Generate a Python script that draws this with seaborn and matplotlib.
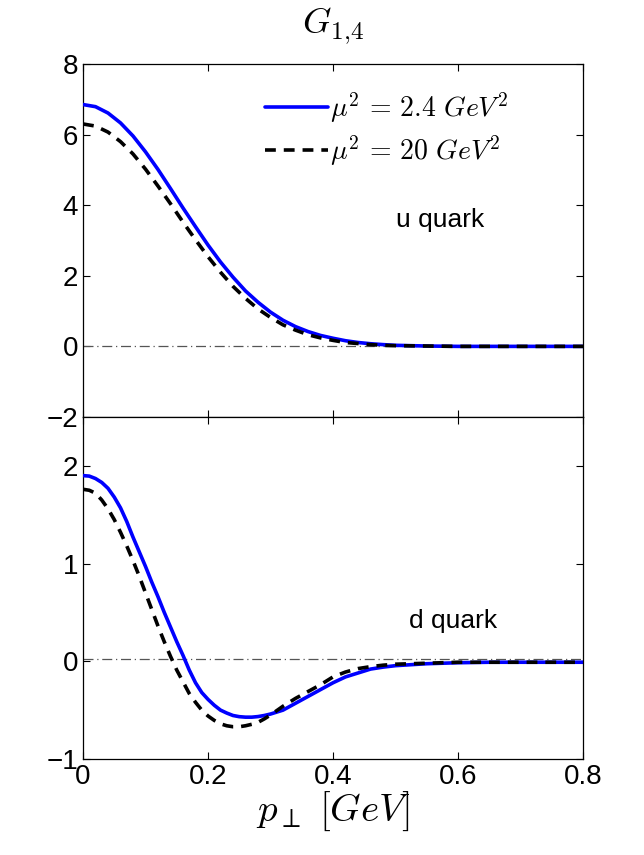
import numpy as np
import pandas as pd
import seaborn as sns
import matplotlib.pyplot as plt

# values
# upper panel: u quark
p_u = [0.00, 0.02, 0.04, 0.06, 0.08, 0.10, 0.12, 0.14, 0.16, 0.18,
       0.20, 0.22, 0.24, 0.26, 0.28, 0.30, 0.32, 0.34, 0.36, 0.38,
       0.40, 0.42, 0.44, 0.46, 0.48, 0.50, 0.55, 0.60, 0.65, 0.70,
       0.75, 0.80]
u_low = [6.85, 6.79, 6.61, 6.33, 5.96, 5.51, 5.01, 4.47, 3.92, 3.39,
         2.87, 2.39, 1.96, 1.57, 1.25, 0.97, 0.74, 0.56, 0.42, 0.31,
         0.23, 0.16, 0.11, 0.075, 0.05, 0.03, 0.01, 0.0, 0.0, 0.0,
         0.0, 0.0]
u_high = [6.30, 6.24, 6.07, 5.80, 5.45, 5.02, 4.54, 4.04, 3.52, 3.02,
          2.54, 2.10, 1.70, 1.36, 1.06, 0.82, 0.61, 0.46, 0.33, 0.24,
          0.17, 0.11, 0.08, 0.05, 0.03, 0.02, 0.01, 0.0, 0.0, 0.0,
          0.0, 0.0]

# lower panel: d quark
p_d = [0.00, 0.01, 0.02, 0.03, 0.04, 0.05, 0.06, 0.07, 0.08, 0.09,
       0.10, 0.11, 0.12, 0.13, 0.14, 0.15, 0.16, 0.17, 0.18, 0.19,
       0.20, 0.21, 0.22, 0.23, 0.24, 0.25, 0.26, 0.27, 0.28, 0.29,
       0.30, 0.32, 0.34, 0.36, 0.38, 0.40, 0.42, 0.44, 0.46, 0.48,
       0.50, 0.55, 0.60, 0.65, 0.70, 0.75, 0.80]
d_low = [1.90, 1.895, 1.87, 1.83, 1.77, 1.68, 1.57, 1.43, 1.27, 1.12,
         0.97, 0.81, 0.66, 0.50, 0.35, 0.20, 0.06, -0.09, -0.22, -0.32,
         -0.39, -0.45, -0.50, -0.53, -0.555, -0.567, -0.572, -0.572, -0.566, -0.555,
         -0.54, -0.50, -0.43, -0.36, -0.29, -0.22, -0.16, -0.12, -0.08, -0.06,
         -0.045, -0.025, -0.015, -0.01, -0.01, -0.01, -0.01]
d_high = [1.76, 1.75, 1.72, 1.65, 1.56, 1.45, 1.32, 1.18, 1.03, 0.87,
          0.70, 0.53, 0.36, 0.20, 0.05, -0.09, -0.21, -0.33, -0.42, -0.50,
          -0.56, -0.605, -0.64, -0.66, -0.67, -0.67, -0.66, -0.645, -0.625, -0.59,
          -0.55, -0.46, -0.38, -0.31, -0.24, -0.16, -0.11, -0.075, -0.055, -0.04,
          -0.03, -0.02, -0.01, -0.01, -0.01, -0.01, -0.01]

labels = [r"$\mu^2\,=\,2.4\ GeV^2$", r"$\mu^2\,=\,20\ GeV^2$"]

sns.set_style("ticks")
plt.rcParams['font.family'] = ['Liberation Sans', 'DejaVu Sans']
plt.rcParams['mathtext.fontset'] = 'cm'
for k in ['text.color', 'axes.labelcolor', 'xtick.color', 'ytick.color', 'axes.edgecolor']:
    plt.rcParams[k] = 'black'

fig = plt.figure(figsize=(6.44, 8.55), dpi=100)
ax1 = fig.add_axes([0.1289, 0.5123, 0.7764, 0.4129])
ax2 = fig.add_axes([0.1289, 0.1123, 0.7764, 0.4000])

panels = [(ax1, p_u, u_low, u_high, 0), (ax2, p_d, d_low, d_high, 0.02)]
for ax, x, lo, hi, zero in panels:
    ax.axhline(zero, color="#555555", lw=0.9, ls=(0, (8, 3, 1, 3)), zorder=1)
    sns.lineplot(x=x, y=lo, ax=ax, color="#0000ff", lw=2.6, label=labels[0], zorder=3)
    sns.lineplot(x=x, y=hi, ax=ax, color="black", lw=2.6, label=labels[1], zorder=4)
    ax.lines[-1].set_dashes([3.0, 2.2])
    ax.set_xlim(0, 0.8)
    ax.set_xticks([0, 0.2, 0.4, 0.6, 0.8])
    ax.tick_params(direction="in", top=True, right=True, length=5, width=0.8,
                   labelsize=20, colors="black")
    for s in ax.spines.values():
        s.set_linewidth(0.9)
        s.set_color("black")
        s.set_visible(True)

ax1.set_ylim(-2, 8)
ax1.set_yticks([-2, 0, 2, 4, 6, 8])
ax1.tick_params(labelbottom=False)
ax1.legend(loc="center left", frameon=False, fontsize=20, handlelength=2.25,
           handletextpad=0.1, borderaxespad=0, borderpad=0, labelspacing=0.3,
           bbox_to_anchor=(0.364, 0.816))
ax1.text(0.571, 3.58, "u quark", fontsize=19, ha="center", va="center")
ax1.set_title(r"$G_{1{,}4}$", fontsize=26, pad=22)

ax2.set_ylim(-1, 2.5)
ax2.set_yticks([-1, 0, 1, 2])
ax2.get_legend().remove()
ax2.text(0.592, 0.41, "d quark", fontsize=19, ha="center", va="center")
ax2.set_xticklabels(["0", "0.2", "0.4", "0.6", "0.8"])
ax2.set_xlabel(r"$p_\perp\ [GeV]$", fontsize=28, labelpad=0)

fig.savefig("out.png", dpi=100)
